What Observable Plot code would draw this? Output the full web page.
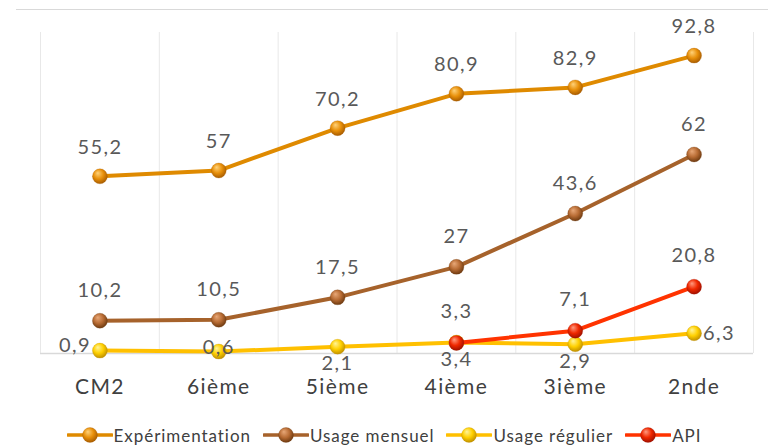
<!DOCTYPE html>
<html><head><meta charset="utf-8">
<script src="https://cdn.jsdelivr.net/npm/d3@7"></script>
<script src="https://cdn.jsdelivr.net/npm/@observablehq/plot@0.6"></script>
<style>
body{margin:0;background:#fff;font-family:Lato,sans-serif;}
#wrap{position:relative;width:768px;height:446px;overflow:hidden;background:#fff;}
#topline{position:absolute;top:9px;left:16px;right:0;height:1px;background:#d9d9d9;}
#chart{position:absolute;top:0;left:0;}
#legend{position:absolute;top:424px;left:0;width:768px;height:22px;display:flex;justify-content:center;align-items:center;gap:12px;font-size:17px;letter-spacing:0.95px;color:#404040;font-family:Lato,sans-serif;}
.item{display:flex;align-items:center;gap:1px;white-space:nowrap;}
</style></head><body>
<div id="wrap"><div id="topline"></div><div id="chart"></div><div id="legend"></div></div>
<script>
const categories = ["CM2", "6ième", "5ième", "4ième", "3ième", "2nde"];
const experimentation = [55.2, 57, 70.2, 80.9, 82.9, 92.8];
const usageMensuel = [10.2, 10.5, 17.5, 27, 43.6, 62];
const usageRegulier = [0.9, 0.6, 2.1, 3.4, 2.9, 6.3];
const api = [null, null, null, 3.3, 7.1, 20.8];
const seriesNames = ["Expérimentation", "Usage mensuel", "Usage régulier", "API"];

const series = [
  {name: seriesNames[0], values: experimentation, id: "gExp", line: "#DF8A00", hi: "#FFD27A", base: "#E8900A", dark: "#A85C00"},
  {name: seriesNames[1], values: usageMensuel, id: "gMen", line: "#A6622B", hi: "#E8A878", base: "#B86C34", dark: "#6E3A10"},
  {name: seriesNames[2], values: usageRegulier, id: "gReg", line: "#FFC000", hi: "#FFF49A", base: "#FFD000", dark: "#C09000"},
  {name: seriesNames[3], values: api, id: "gApi", line: "#FF3300", hi: "#FF9A80", base: "#F02800", dark: "#A01000"}
];
const rows = series.map(s => s.values.map((v, i) => ({i, v, s: s.name})).filter(d => d.v != null));
const fmt = v => String(v).replace(".", ",");

const defsMark = () => {
  const defs = d3.create("svg:defs");
  for (const s of series) {
    const g = defs.append("radialGradient").attr("id", s.id)
      .attr("cx", "45%").attr("cy", "40%").attr("r", "60%").attr("fx", "35%").attr("fy", "28%");
    g.append("stop").attr("offset", "0%").attr("stop-color", s.hi);
    g.append("stop").attr("offset", "55%").attr("stop-color", s.base);
    g.append("stop").attr("offset", "100%").attr("stop-color", s.dark);
  }
  return defs.node();
};

const labelStyle = {text: d => fmt(d.v), fontSize: 20, fill: "#595959", x: "i", y: "v"};
const marks = [
  defsMark,
  Plot.ruleX(d3.range(categories.length + 1).map(i => i - 0.5), {stroke: "#e8e8e8", strokeWidth: 1}),
  Plot.ruleY([0], {stroke: "#d9d9d9", strokeWidth: 1.5}),
  Plot.axisX({ticks: d3.range(categories.length), tickFormat: i => categories[i], tickSize: 0, tickPadding: 26, fontSize: 21, color: "#404040", label: null})
];
series.forEach((s, k) => {
  marks.push(Plot.line(rows[k], {x: "i", y: "v", stroke: s.line, strokeWidth: 4, strokeLinejoin: "round", strokeLinecap: "round"}));
  marks.push(Plot.dot(rows[k], {x: "i", y: "v", r: 7.5, fill: `url(#${s.id})`, stroke: s.dark, strokeWidth: 0.5, strokeOpacity: 0.5}));
});
// labels
marks.push(Plot.text(rows[0], {...labelStyle, dy: -29}));
marks.push(Plot.text(rows[1], {...labelStyle, dy: -30}));
marks.push(Plot.text(rows[3], {...labelStyle, dy: -31}));
marks.push(Plot.text(rows[2].filter(d => d.i === 0), {...labelStyle, dx: -9, dy: -5, textAnchor: "end"}));
marks.push(Plot.text(rows[2].filter(d => d.i === 1), {...labelStyle, dy: -4}));
marks.push(Plot.text(rows[2].filter(d => d.i >= 2 && d.i <= 4), {...labelStyle, dy: 17}));
marks.push(Plot.text(rows[2].filter(d => d.i === 5), {...labelStyle, dx: 9, textAnchor: "start"}));

const chart = Plot.plot({
  width: 768,
  height: 400,
  marginLeft: 40,
  marginRight: 15,
  marginTop: 32,
  marginBottom: 47,
  style: {fontFamily: "Lato, sans-serif", background: "transparent", overflow: "visible", letterSpacing: "1.4px"},
  x: {type: "linear", domain: [-0.5, categories.length - 0.5], axis: null},
  y: {domain: [0, 100], axis: null},
  marks
});
document.getElementById("chart").appendChild(chart);

const legend = document.getElementById("legend");
series.forEach(s => {
  const item = document.createElement("div");
  item.className = "item";
  const sym = d3.create("svg").attr("width", 46).attr("height", 18);
  sym.append("line").attr("x1", 1).attr("x2", 45).attr("y1", 9).attr("y2", 9)
    .attr("stroke", s.line).attr("stroke-width", 3.5).attr("stroke-linecap", "round");
  sym.append("circle").attr("cx", 23).attr("cy", 9).attr("r", 7.5).attr("fill", `url(#${s.id})`)
    .attr("stroke", s.dark).attr("stroke-width", 0.5).attr("stroke-opacity", 0.5);
  item.appendChild(sym.node());
  const t = document.createElement("span");
  t.textContent = s.name;
  item.appendChild(t);
  legend.appendChild(item);
});
</script></body></html>
